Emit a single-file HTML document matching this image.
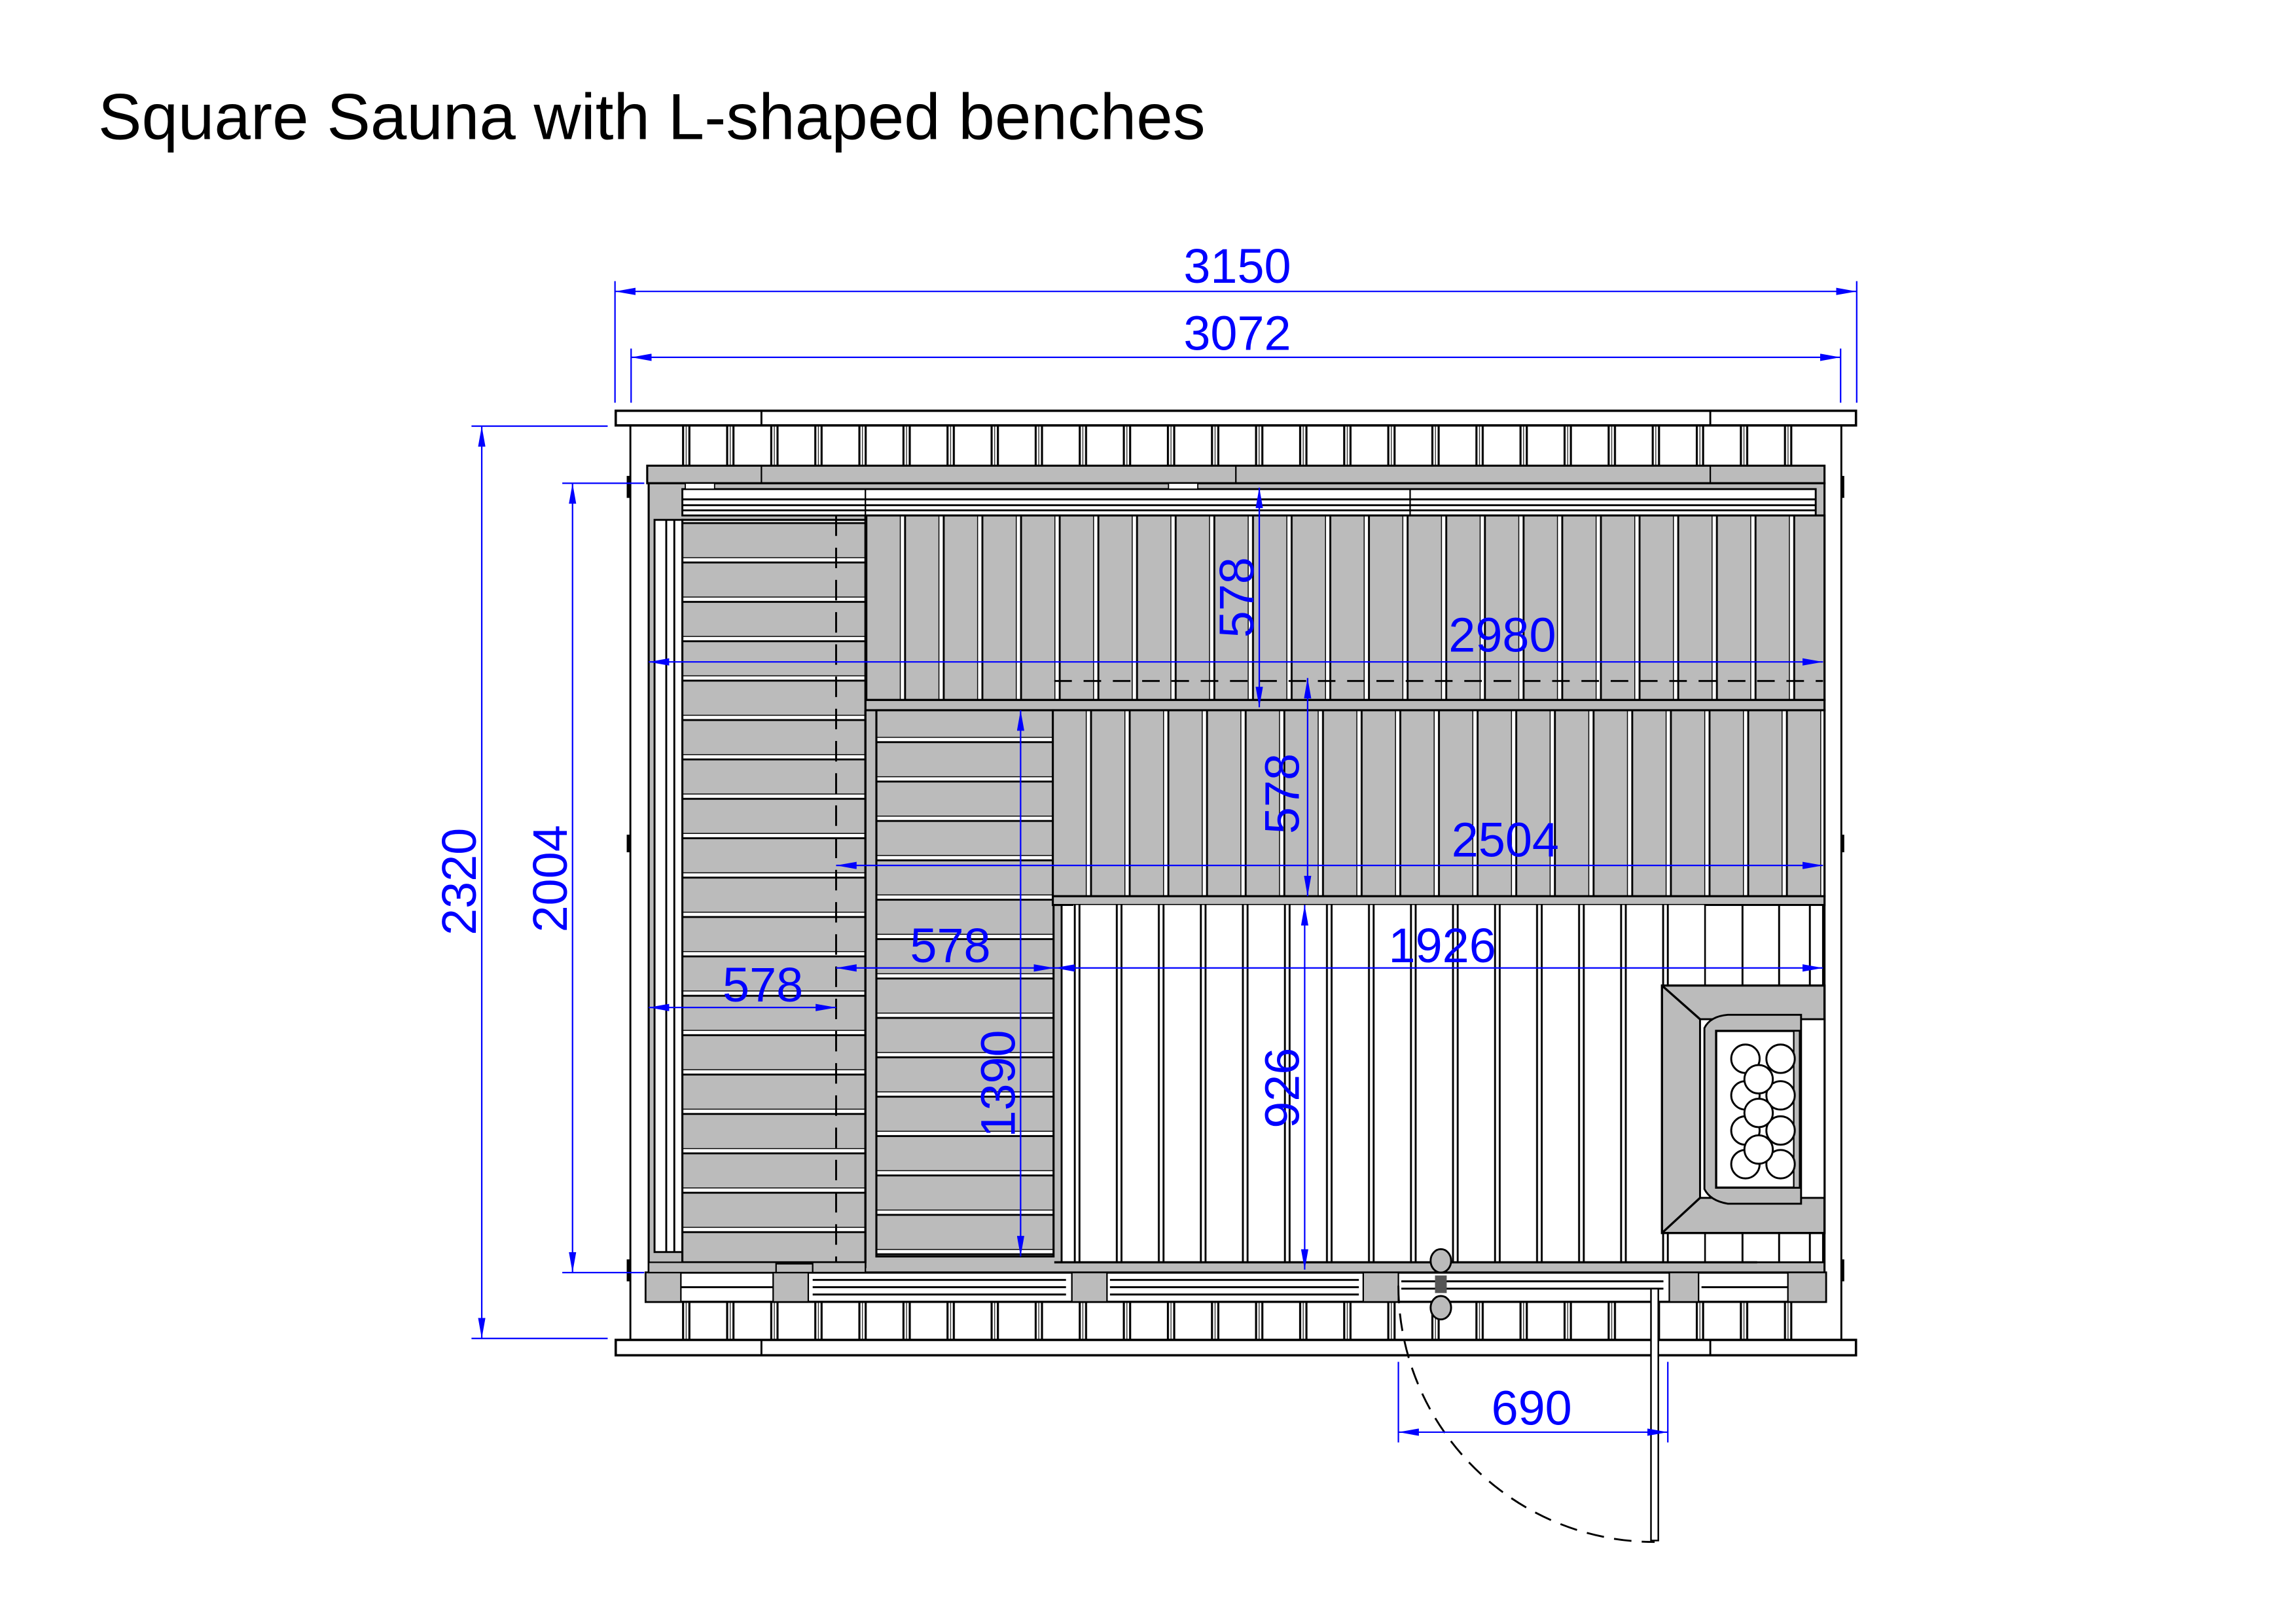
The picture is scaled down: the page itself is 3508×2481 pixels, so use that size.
<!DOCTYPE html>
<html><head><meta charset="utf-8"><style>
html,body{margin:0;padding:0;background:#fff;}
svg{display:block;}
text{font-family:"Liberation Sans",Arial,sans-serif;}
</style></head><body>
<svg width="3508" height="2481" viewBox="0 0 1568 1109" preserveAspectRatio="none" xmlns="http://www.w3.org/2000/svg">
<defs>
<pattern id="wall" patternUnits="userSpaceOnUse" x="526" y="0" width="30.1" height="50">
<rect width="30.1" height="50" fill="#fff"/>
<line x1="0.7" y1="0" x2="0.7" y2="50" stroke="#000" stroke-width="1.4"/>
<line x1="5" y1="0" x2="5" y2="50" stroke="#000" stroke-width="1.4"/>
<line x1="2.8" y1="0" x2="2.8" y2="50" stroke="#000" stroke-width="0.5"/>
</pattern>
<pattern id="vslat" patternUnits="userSpaceOnUse" x="614.5" y="0" width="26.4" height="50">
<rect width="26.4" height="50" fill="#bbb"/>
<rect x="0" y="-1" width="3.6" height="52" fill="#fff" stroke="#000" stroke-width="1.3"/>
</pattern>
<pattern id="vslat2" patternUnits="userSpaceOnUse" x="741.5" y="0" width="26.4" height="50">
<rect width="26.4" height="50" fill="#bbb"/>
<rect x="0" y="-1" width="3.6" height="52" fill="#fff" stroke="#000" stroke-width="1.3"/>
</pattern>
<pattern id="hslat" patternUnits="userSpaceOnUse" x="0" y="380.5" width="50" height="26.9">
<rect width="50" height="26.9" fill="#bbb"/>
<rect x="-1" y="0" width="52" height="3.6" fill="#fff" stroke="#000" stroke-width="1.3"/>
</pattern>
<pattern id="hslat2" patternUnits="userSpaceOnUse" x="0" y="503.2" width="50" height="26.9">
<rect width="50" height="26.9" fill="#bbb"/>
<rect x="-1" y="0" width="52" height="3.6" fill="#fff" stroke="#000" stroke-width="1.3"/>
</pattern>
<pattern id="floor" patternUnits="userSpaceOnUse" x="733" y="0" width="28.7" height="50">
<rect width="28.7" height="50" fill="#fff"/>
<line x1="1" y1="0" x2="1" y2="50" stroke="#000" stroke-width="1.3"/>
<line x1="4.2" y1="0" x2="4.2" y2="50" stroke="#000" stroke-width="1.3"/>
</pattern>
<marker id="ar" viewBox="0 0 14 5" refX="14" refY="2.5" markerWidth="14" markerHeight="5" markerUnits="userSpaceOnUse" orient="auto-start-reverse">
<path d="M0,0 L14,2.5 L0,5 z" fill="#00f"/>
</marker>
</defs>

<text x="67" y="95" font-size="44.6" fill="#000">Square Sauna with L-shaped benches</text>

<!-- top wall -->
<rect x="443" y="290" width="803" height="28" fill="url(#wall)"/>
<rect x="420.5" y="280.5" width="847" height="10" fill="#fff" stroke="#000" stroke-width="1.6"/>
<line x1="520" y1="280" x2="520" y2="290" stroke="#000" stroke-width="1.3"/>
<line x1="1168" y1="280" x2="1168" y2="290" stroke="#000" stroke-width="1.3"/>
<!-- bottom wall -->
<rect x="443" y="889" width="803" height="26" fill="url(#wall)"/>
<rect x="420.5" y="915" width="847" height="10.5" fill="#fff" stroke="#000" stroke-width="1.6"/>
<line x1="520" y1="915" x2="520" y2="925" stroke="#000" stroke-width="1.3"/>
<line x1="1168" y1="915" x2="1168" y2="925" stroke="#000" stroke-width="1.3"/>

<!-- side walls -->
<line x1="430.5" y1="290" x2="430.5" y2="915" stroke="#000" stroke-width="1.3"/>
<line x1="1257.5" y1="290" x2="1257.5" y2="915" stroke="#000" stroke-width="1.3"/>
<rect x="428" y="325" width="2.5" height="15" fill="#000"/>
<rect x="428" y="860" width="2.5" height="15" fill="#000"/>
<rect x="1257" y="325" width="2.5" height="15" fill="#000"/>
<rect x="1257" y="570" width="2.5" height="12" fill="#000"/>
<rect x="428" y="570" width="2.5" height="12" fill="#000"/>
<rect x="1257" y="860" width="2.5" height="15" fill="#000"/>

<!-- top gray band -->
<rect x="442" y="318" width="804" height="12" fill="#bbb" stroke="#000" stroke-width="1.4"/>
<line x1="520" y1="318" x2="520" y2="330" stroke="#000" stroke-width="1"/>
<line x1="1168" y1="318" x2="1168" y2="330" stroke="#000" stroke-width="1"/>
<line x1="844" y1="318" x2="844" y2="330" stroke="#000" stroke-width="1"/>
<!-- inner frame gray -->
<rect x="443" y="330" width="803" height="540" fill="#bbb" stroke="#000" stroke-width="1.4"/>
<!-- beam -->
<rect x="466" y="334" width="774" height="18" fill="#fff" stroke="#000" stroke-width="1.3"/>
<line x1="466" y1="341" x2="1240" y2="341" stroke="#000" stroke-width="1.3"/>
<line x1="466" y1="345" x2="1240" y2="345" stroke="#000" stroke-width="1.3"/>
<line x1="466" y1="348.5" x2="1240" y2="348.5" stroke="#000" stroke-width="1.3"/>
<line x1="591" y1="334" x2="591" y2="352" stroke="#000" stroke-width="1"/>
<line x1="963" y1="334" x2="963" y2="352" stroke="#000" stroke-width="1"/>
<rect x="468" y="330" width="20" height="4" fill="#fff" stroke="#000" stroke-width="0.8"/>
<rect x="798" y="330" width="20" height="4" fill="#fff" stroke="#000" stroke-width="0.8"/>

<!-- left white column -->
<rect x="447" y="355" width="19" height="500" fill="#fff" stroke="#000" stroke-width="1.3"/>
<line x1="455" y1="355" x2="455" y2="855" stroke="#000" stroke-width="1.3"/>
<line x1="460.5" y1="355" x2="460.5" y2="855" stroke="#000" stroke-width="1.3"/>

<!-- upper bench -->
<rect x="591" y="352" width="655" height="126" fill="url(#vslat)" stroke="#000" stroke-width="1.4"/>
<rect x="591" y="478" width="655" height="7" fill="#bbb" stroke="#000" stroke-width="1.4"/>
<line x1="720" y1="465" x2="1245" y2="465" stroke="#000" stroke-width="1.3" stroke-dasharray="12,8"/>
<!-- left bench -->
<rect x="466" y="355" width="125" height="507" fill="url(#hslat)" stroke="#000" stroke-width="1.4"/>
<line x1="571" y1="352" x2="571" y2="862" stroke="#000" stroke-width="1.3" stroke-dasharray="14,8"/>
<!-- second left bench -->
<rect x="598.5" y="485" width="121" height="373" fill="url(#hslat2)" stroke="#000" stroke-width="1.4"/>
<line x1="591" y1="485" x2="591" y2="866" stroke="#000" stroke-width="1.4"/>
<!-- middle bench -->
<rect x="719" y="485" width="527" height="127" fill="url(#vslat2)" stroke="#000" stroke-width="1.4"/>
<rect x="719" y="612" width="527" height="6" fill="#bbb" stroke="#000" stroke-width="1.4"/>
<!-- floor -->
<rect x="725" y="618" width="520" height="244" fill="#fff" stroke="#000" stroke-width="1.3"/>
<rect x="733" y="618" width="432" height="244" fill="url(#floor)"/>
<line x1="1190" y1="618" x2="1190" y2="862" stroke="#000" stroke-width="1.3"/>
<line x1="1215" y1="618" x2="1215" y2="862" stroke="#000" stroke-width="1.3"/>
<line x1="1236" y1="618" x2="1236" y2="862" stroke="#000" stroke-width="1.3"/>
<line x1="720" y1="862" x2="1200" y2="862" stroke="#000" stroke-width="1.5"/>

<!-- heater -->
<rect x="1135" y="673" width="111" height="169" fill="#bbb" stroke="#000" stroke-width="1.5"/>
<rect x="1161" y="696" width="85" height="122" fill="#fff" stroke="#000" stroke-width="1.3"/>
<line x1="1135" y1="673" x2="1161" y2="696" stroke="#000" stroke-width="1.5"/>
<line x1="1135" y1="842" x2="1161" y2="818" stroke="#000" stroke-width="1.5"/>
<path d="M1164,702 Q1168,694 1180,693 L1230,693 L1230,822 L1180,822 Q1168,820 1164,812 Z" fill="#bbb" stroke="#000" stroke-width="1.3"/>
<rect x="1172" y="704" width="57" height="107" fill="#fff" stroke="#000" stroke-width="1.5"/>
<rect x="1225" y="704" width="4" height="107" fill="#bbb" stroke="#000" stroke-width="1"/>
<g fill="#fff" stroke="#000" stroke-width="1.3">
<circle cx="1192" cy="723" r="9.7"/><circle cx="1216" cy="723" r="9.7"/>
<circle cx="1192" cy="748" r="9.7"/><circle cx="1216" cy="748" r="9.7"/>
<circle cx="1192" cy="772" r="9.7"/><circle cx="1216" cy="772" r="9.7"/>
<circle cx="1192" cy="795" r="9.7"/><circle cx="1216" cy="795" r="9.7"/>
<circle cx="1201" cy="737" r="9.7"/><circle cx="1201" cy="760" r="9.7"/><circle cx="1201" cy="785" r="9.7"/>
</g>

<!-- bottom band -->
<rect x="441" y="869" width="806" height="20" fill="#fff" stroke="#000" stroke-width="1.5"/>
<g fill="#bbb" stroke="#000" stroke-width="1">
<rect x="441" y="869" width="24" height="20"/><rect x="528" y="869" width="24" height="20"/>
<rect x="732" y="869" width="24" height="20"/><rect x="931" y="869" width="24" height="20"/>
<rect x="1140" y="869" width="20" height="20"/><rect x="1221" y="869" width="26" height="20"/>
<rect x="443" y="862" width="148" height="7"/>
<rect x="530" y="863" width="25" height="6"/>
</g>
<g stroke="#000" stroke-width="1.3">
<line x1="465" y1="879" x2="528" y2="879"/><line x1="555" y1="874" x2="728" y2="874"/>
<line x1="555" y1="879" x2="728" y2="879"/><line x1="555" y1="884" x2="728" y2="884"/>
<line x1="758" y1="874" x2="928" y2="874"/><line x1="758" y1="879" x2="928" y2="879"/>
<line x1="758" y1="884" x2="928" y2="884"/><line x1="957" y1="875" x2="1136" y2="875"/>
<line x1="957" y1="880" x2="1136" y2="880"/><line x1="1162" y1="879" x2="1221" y2="879"/>
</g>
<!-- door -->
<ellipse cx="984" cy="861" rx="7" ry="8" fill="#bbb" stroke="#000" stroke-width="1.3"/>
<ellipse cx="984" cy="893" rx="7" ry="8" fill="#bbb" stroke="#000" stroke-width="1.3"/>
<rect x="980" y="871" width="8" height="12" fill="#555"/>
<rect x="1127.5" y="880" width="5" height="172" fill="#fff" stroke="#000" stroke-width="1.1"/>
<path d="M955,878 A175,175 0 0 0 1130,1053" fill="none" stroke="#000" stroke-width="1.3" stroke-dasharray="12,7"/>

<!-- dimensions -->
<g stroke="#00f" stroke-width="1" fill="none">
<line x1="420" y1="192" x2="420" y2="275"/><line x1="1268" y1="192" x2="1268" y2="275"/>
<line x1="431" y1="238" x2="431" y2="275"/><line x1="1257" y1="238" x2="1257" y2="275"/>
<line x1="420" y1="199" x2="1268" y2="199" marker-start="url(#ar)" marker-end="url(#ar)"/>
<line x1="431" y1="244" x2="1257" y2="244" marker-start="url(#ar)" marker-end="url(#ar)"/>
<line x1="322" y1="291" x2="415" y2="291"/><line x1="322" y1="914" x2="415" y2="914"/>
<line x1="329" y1="291" x2="329" y2="914" marker-start="url(#ar)" marker-end="url(#ar)"/>
<line x1="384" y1="330" x2="440" y2="330"/><line x1="384" y1="869" x2="440" y2="869"/>
<line x1="391" y1="330" x2="391" y2="869" marker-start="url(#ar)" marker-end="url(#ar)"/>
<line x1="860" y1="333" x2="860" y2="483" marker-start="url(#ar)" marker-end="url(#ar)"/>
<line x1="443" y1="452" x2="1245" y2="452" marker-start="url(#ar)" marker-end="url(#ar)"/>
<line x1="893" y1="463" x2="893" y2="612" marker-start="url(#ar)" marker-end="url(#ar)"/>
<line x1="571" y1="591" x2="1245" y2="591" marker-start="url(#ar)" marker-end="url(#ar)"/>
<line x1="720" y1="661" x2="1245" y2="661" marker-start="url(#ar)" marker-end="url(#ar)"/>
<line x1="571" y1="661" x2="720" y2="661" marker-start="url(#ar)" marker-end="url(#ar)"/>
<line x1="443" y1="688" x2="571" y2="688" marker-start="url(#ar)" marker-end="url(#ar)"/>
<line x1="697" y1="485" x2="697" y2="858" marker-start="url(#ar)" marker-end="url(#ar)"/>
<line x1="891" y1="618" x2="891" y2="867" marker-start="url(#ar)" marker-end="url(#ar)"/>
<line x1="955" y1="978" x2="1139" y2="978" marker-start="url(#ar)" marker-end="url(#ar)"/>
<line x1="955" y1="930" x2="955" y2="985"/><line x1="1139" y1="930" x2="1139" y2="985"/>
</g>
<g fill="#00f" font-size="33" text-anchor="middle">
<text x="845" y="193">3150</text>
<text x="845" y="239">3072</text>
<text x="1026" y="445">2980</text>
<text x="1028" y="585">2504</text>
<text x="985" y="657">1926</text>
<text x="649" y="657">578</text>
<text x="521" y="684">578</text>
<text x="1046" y="973">690</text>
<text transform="translate(325,602) rotate(-90)">2320</text>
<text transform="translate(387,600) rotate(-90)">2004</text>
<text transform="translate(856,408) rotate(-90)">578</text>
<text transform="translate(887,542) rotate(-90)">578</text>
<text transform="translate(693,740) rotate(-90)">1390</text>
<text transform="translate(887,743) rotate(-90)">926</text>
</g>
</svg>
</body></html>
